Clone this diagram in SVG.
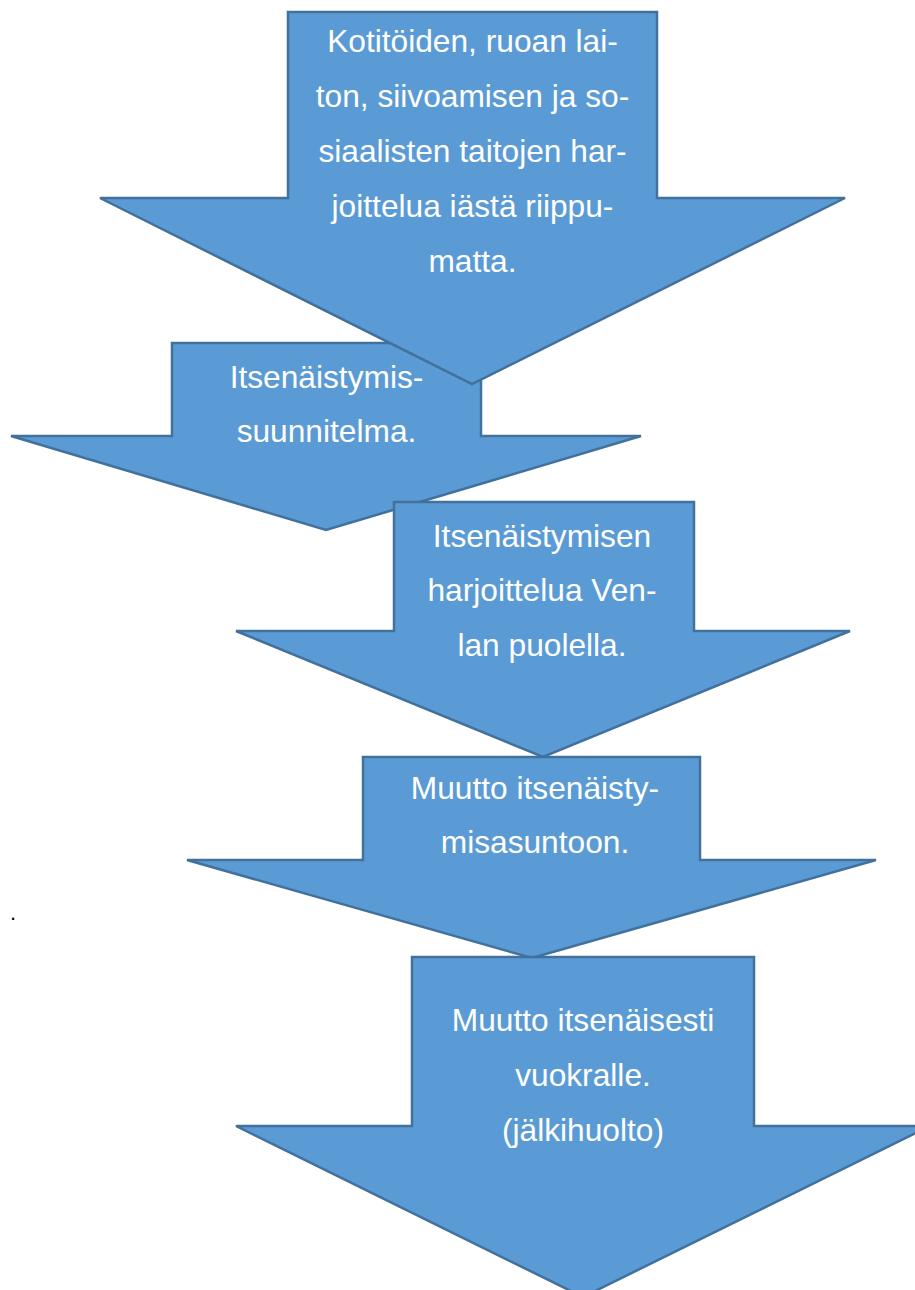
<svg xmlns="http://www.w3.org/2000/svg" width="915" height="1290" viewBox="0 0 915 1290">
<style>
.arrow{fill:#5B9BD5;stroke:#41719C;stroke-width:2.5;stroke-linejoin:miter}
.lbl{font-family:"Liberation Sans",Arial,sans-serif;font-size:31.7px;fill:#FFFFFF;text-anchor:middle}
.dot{font-family:"Liberation Sans",Arial,sans-serif;font-size:22px;fill:#000000}
</style>
<rect width="915" height="1290" fill="#FFFFFF"/>
<g id="connectors"/>
<g id="step2">
<polygon class="arrow" points="172,343 481,343 481,436 641,436 326,530 11,436 172,436"/>
<text class="lbl" x="326.5" y="388">Itsenäistymis-</text>
<text class="lbl" x="326.5" y="442">suunnitelma.</text>
</g>
<g id="step1">
<polygon class="arrow" points="288,12 657,12 657,198 845,198 472,384 100,198 288,198"/>
<text class="lbl" x="472.5" y="52">Kotitöiden, ruoan lai-</text>
<text class="lbl" x="472.5" y="107">ton, siivoamisen ja so-</text>
<text class="lbl" x="472.5" y="162">siaalisten taitojen har-</text>
<text class="lbl" x="472.5" y="217">joittelua iästä riippu-</text>
<text class="lbl" x="472.5" y="272">matta.</text>
</g>
<g id="step3">
<polygon class="arrow" points="394,502 694,502 694,631 850,631 543,757 236,631 394,631"/>
<text class="lbl" x="542" y="547">Itsenäistymisen</text>
<text class="lbl" x="542" y="601">harjoittelua Ven-</text>
<text class="lbl" x="542" y="656">lan puolella.</text>
</g>
<g id="step4">
<polygon class="arrow" points="363,757 700,757 700,860 876,860 532,958 187,860 363,860"/>
<text class="lbl" x="535" y="799">Muutto itsenäisty-</text>
<text class="lbl" x="535" y="853">misasuntoon.</text>
</g>
<g id="step5">
<polygon class="arrow" points="412,957 754,957 754,1126 930,1126 583,1297 236,1126 412,1126"/>
<text class="lbl" x="583" y="1031">Muutto itsenäisesti</text>
<text class="lbl" x="583" y="1086">vuokralle.</text>
<text class="lbl" x="583" y="1141">(jälkihuolto)</text>
</g>
<text class="dot" x="10" y="920">.</text>
</svg>
